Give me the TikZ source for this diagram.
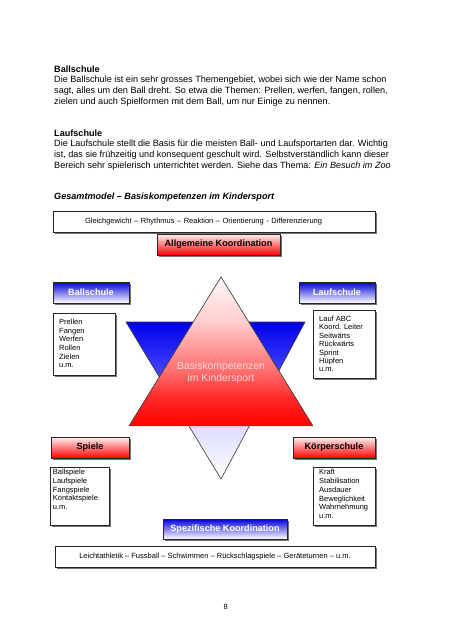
\documentclass[tikz,border=0pt]{standalone}
\usepackage{fontspec}
\setmainfont{Liberation Sans}
\usetikzlibrary{shadows}

\newcommand{\bodyfont}{\fontsize{9.1}{10.7}\selectfont}
\newcommand{\smallfont}{\fontsize{7.5}{8.7}\selectfont}

\pgfdeclareverticalshading{startri}{100bp}{color(0bp)=(white); color(25bp)=(white); color(42bp)=(blue!14); color(58bp)=(blue!72); color(75bp)=(blue!92!black); color(100bp)=(blue!92!black)}
\pgfdeclareverticalshading{redtri}{100bp}{color(0bp)=(red); color(25bp)=(red); color(34bp)=(red!85); color(43bp)=(red!58); color(60bp)=(red!20); color(75bp)=(red!2); color(100bp)=(red!2)}

\begin{document}
\begin{tikzpicture}[x=1pt,y=-1pt,
  txt/.style={anchor=base west, inner sep=0, font=\bodyfont},
  item/.style={anchor=base west, inner sep=0, font=\smallfont},
  framebox/.style={draw=black!85, line width=.6pt, fill=white, inner sep=0,
    drop shadow={shadow xshift=1.8pt, shadow yshift=-1.8pt, fill=black!55, opacity=1}},
  redbox/.style={framebox, top color=red!5, bottom color=red, font=\bodyfont\bfseries},
  bluebox/.style={framebox, top color=blue!85!black, bottom color=white, text=white, font=\bodyfont\bfseries}]
\fill[white] (0,0) rectangle (452,640);
\useasboundingbox (0,0) rectangle (452,640);

% text above the model
\node[txt, font=\bodyfont\bfseries] (ballhead) at (54,72) {Ballschule};
\foreach \l [count=\i] in {{Die Ballschule ist ein sehr grosses Themengebiet, wobei sich wie der Name schon},
  {sagt, alles um den Ball dreht. So etwa die Themen: Prellen, werfen, fangen, rollen,},
  {zielen und auch Spielformen mit dem Ball, um nur Einige zu nennen.}}
  \node[txt] (balltxt\i) at (54,72+10.7*\i) {\l};
\node[txt, font=\bodyfont\bfseries] (laufhead) at (54,136) {Laufschule};
\foreach \l [count=\i] in {{Die Laufschule stellt die Basis für die meisten Ball- und Laufsportarten dar. Wichtig},
  {ist, das sie frühzeitig und konsequent geschult wird. Selbstverständlich kann dieser},
  {Bereich sehr spielerisch unterrichtet werden. Siehe das Thema: \textit{Ein Besuch im Zoo}}}
  \node[txt] (lauftxt\i) at (54,136+10.7*\i) {\l};
\node[txt, font=\bodyfont\bfseries\itshape] (model) at (54,199) {Gesamtmodel – Basiskompetenzen im Kindersport};

% star
\shade[shading=startri, draw=black!80, line width=.6pt] (126,322) -- (305,322) -- (221,479) -- cycle;
\shade[shading=redtri] (221,277) -- (313,426) -- (129,426) -- cycle;
\draw[black!80, line width=.6pt] (129,426) -- (221,277) -- (313,426);
\node[font=\fontsize{10.4}{11.8}\selectfont, text=white!85!red, align=center, inner sep=0] (basis) at (221,373) {Basiskompetenzen\\im Kindersport};

% boxes
\node[framebox, minimum width=322pt, minimum height=21pt, text width=258pt, align=left, font=\smallfont] (gleich) at (214,221.5) {Gleichgewicht – Rhythmus – Reaktion – Orientierung - Differenzierung};
\node[redbox, minimum width=123pt, minimum height=21pt] (allg) at (218.5,244.5) {Allgemeine Koordination};
\node[bluebox, minimum width=76pt, minimum height=21pt] (ball) at (91,292.5) {Ballschule};
\node[bluebox, minimum width=76pt, minimum height=21pt] (lauf) at (337,292.5) {Laufschule};
\node[redbox, minimum width=78pt, minimum height=21pt] (spiele) at (90,447.5) {Spiele};
\node[redbox, minimum width=82pt, minimum height=21pt] (koerper) at (334,447.5) {Körperschule};
\node[bluebox, minimum width=124pt, minimum height=20pt] (spez) at (225,529) {Spezifische Koordination};
\node[framebox, minimum width=320pt, minimum height=21pt, font=\smallfont] (leicht) at (215,556.5) {Leichtathletik – Fussball – Schwimmen – Rückschlagspiele – Geräteturnen – u.m.};

% lists
\node[framebox, anchor=north west, minimum width=62pt, minimum height=62pt] (balllist) at (53,313) {};
\node[framebox, anchor=north west, minimum width=62pt, minimum height=68pt] (lauflist) at (313,310) {};
\node[framebox, anchor=north west, minimum width=59pt, minimum height=58pt] (spielelist) at (50,467) {};
\node[framebox, anchor=north west, minimum width=62pt, minimum height=58pt] (koerperlist) at (313,467) {};
\foreach \t [count=\i from 0] in {Prellen,Fangen,Werfen,Rollen,Zielen,u.m.}
  \node[item] (ballitem\i) at (59,324.3+8.7*\i) {\t};
\foreach \t [count=\i from 0] in {Lauf ABC,Koord. Leiter,Seitwärts,Rückwärts,Sprint,Hüpfen,u.m.}
  \node[item] (laufitem\i) at (319,321.6+8.35*\i) {\t};
\foreach \t [count=\i from 0] in {Ballspiele,Laufspiele,Fangspiele,Kontaktspiele,u.m.}
  \node[item] (spieleitem\i) at (52.7,474.9+8.6*\i) {\t};
\foreach \t [count=\i from 0] in {Kraft,Stabilisation,Ausdauer,Beweglichkeit,Wahrnehmung,u.m.}
  \node[item] (koerperitem\i) at (319,474.9+8.7*\i) {\t};

\node[font=\smallfont, inner sep=0] (page) at (225.7,606.7) {8};
\end{tikzpicture}
\end{document}
